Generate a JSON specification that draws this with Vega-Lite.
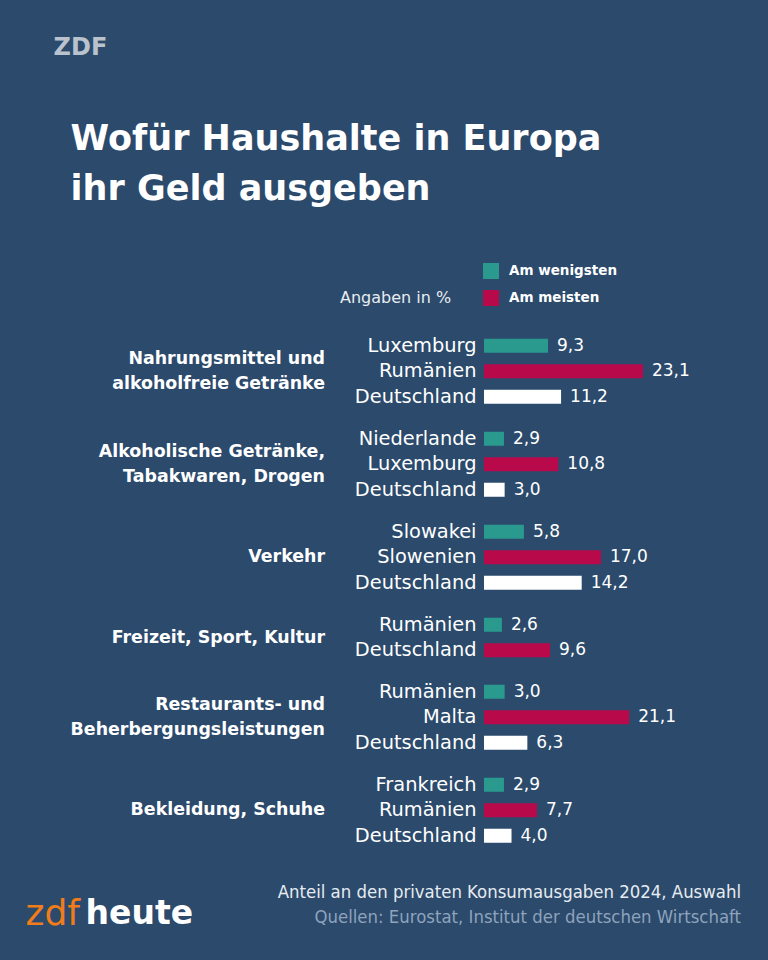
{
  "$schema": "https://vega.github.io/schema/vega-lite/v6.json",
  "background": "#2b4a6c",
  "padding": {"left": 25, "top": 36, "right": 27, "bottom": 45},
  "config": {
    "locale": {"number": {"decimal": ",", "thousands": ".", "grouping": [3], "currency": ["", " €"]}},
    "view": {"stroke": null},
    "font": "DejaVu Sans"
  },
  "title": {
    "text": "ZDF", "anchor": "start", "dx": 28, "offset": 62,
    "font": "DejaVu Sans", "fontSize": 24, "fontWeight": "bold", "color": "#b9c2cd"
  },
  "vconcat": [
    {
      "title": {
        "text": ["Wofür Haushalte in Europa", "ihr Geld ausgeben"],
        "anchor": "start", "dx": 45, "offset": 126,
        "font": "DejaVu Sans", "fontSize": 35, "fontWeight": "bold", "color": "#ffffff", "lineHeight": 50
      },
      "vconcat": [
        {
          "title": {"text": "heute", "orient": "bottom", "anchor": "start", "dx": 60, "offset": -34,
            "font": "DejaVu Sans", "fontSize": 33, "fontWeight": "bold", "color": "#ffffff"},
          "vconcat": [
            {
              "title": {"text": "zdf", "orient": "bottom", "anchor": "start", "dx": -45, "offset": -29,
                "font": "DejaVu Sans", "fontSize": 36, "fontWeight": "normal", "color": "#f07d1a"},
              "vconcat": [
                {
                  "data": {"values": [
                    {"kat": "Nahrungsmittel und\nalkoholfreie Getränke", "land": "Luxemburg", "wert": 9.3, "typ": "Am wenigsten"},
                    {"kat": "Nahrungsmittel und\nalkoholfreie Getränke", "land": "Rumänien", "wert": 23.1, "typ": "Am meisten"},
                    {"kat": "Nahrungsmittel und\nalkoholfreie Getränke", "land": "Deutschland", "wert": 11.2, "typ": "Deutschland"},
                    {"kat": "Alkoholische Getränke,\nTabakwaren, Drogen", "land": "Niederlande", "wert": 2.9, "typ": "Am wenigsten"},
                    {"kat": "Alkoholische Getränke,\nTabakwaren, Drogen", "land": "Luxemburg", "wert": 10.8, "typ": "Am meisten"},
                    {"kat": "Alkoholische Getränke,\nTabakwaren, Drogen", "land": "Deutschland", "wert": 3.0, "typ": "Deutschland"},
                    {"kat": "Verkehr", "land": "Slowakei", "wert": 5.8, "typ": "Am wenigsten"},
                    {"kat": "Verkehr", "land": "Slowenien", "wert": 17.0, "typ": "Am meisten"},
                    {"kat": "Verkehr", "land": "Deutschland", "wert": 14.2, "typ": "Deutschland"},
                    {"kat": "Freizeit, Sport, Kultur", "land": "Rumänien", "wert": 2.6, "typ": "Am wenigsten"},
                    {"kat": "Freizeit, Sport, Kultur", "land": "Deutschland", "wert": 9.6, "typ": "Am meisten"},
                    {"kat": "Restaurants- und\nBeherbergungsleistungen", "land": "Rumänien", "wert": 3.0, "typ": "Am wenigsten"},
                    {"kat": "Restaurants- und\nBeherbergungsleistungen", "land": "Malta", "wert": 21.1, "typ": "Am meisten"},
                    {"kat": "Restaurants- und\nBeherbergungsleistungen", "land": "Deutschland", "wert": 6.3, "typ": "Deutschland"},
                    {"kat": "Bekleidung, Schuhe", "land": "Frankreich", "wert": 2.9, "typ": "Am wenigsten"},
                    {"kat": "Bekleidung, Schuhe", "land": "Rumänien", "wert": 7.7, "typ": "Am meisten"},
                    {"kat": "Bekleidung, Schuhe", "land": "Deutschland", "wert": 4.0, "typ": "Deutschland"}
                  ]},
                  "title": {
                    "text": "Anteil an den privaten Konsumausgaben 2024, Auswahl",
                    "subtitle": "Quellen: Eurostat, Institut der deutschen Wirtschaft",
                    "orient": "bottom", "anchor": "end", "offset": 34,
                    "font": "DejaVu Sans Condensed, Liberation Sans Narrow, Roboto Condensed, DejaVu Sans", "fontSize": 18.4, "fontWeight": "normal", "color": "#e6ebf1",
                    "subtitleFont": "DejaVu Sans Condensed, Liberation Sans Narrow, Roboto Condensed, DejaVu Sans", "subtitleFontSize": 18.4,
                    "subtitleColor": "#8ea3bc", "subtitlePadding": 7
                  },
                  "facet": {
                    "row": {
                      "field": "kat", "type": "nominal",
                      "sort": ["Nahrungsmittel und\nalkoholfreie Getränke", "Alkoholische Getränke,\nTabakwaren, Drogen", "Verkehr", "Freizeit, Sport, Kultur", "Restaurants- und\nBeherbergungsleistungen", "Bekleidung, Schuhe"],
                      "header": {"title": null, "labels": false}
                    }
                  },
                  "spacing": {"row": 16},
                  "resolve": {"scale": {"y": "independent"}},
                  "spec": {
                    "width": 257,
                    "height": {"step": 25.5},
                    "layer": [
                      {
                        "mark": {"type": "bar"},
                        "encoding": {
                          "y": {
                            "field": "land", "type": "nominal", "sort": null,
                            "scale": {"paddingInner": 0.45, "paddingOuter": 0.225},
                            "axis": {"title": null, "domain": false, "ticks": false, "labelFont": "DejaVu Sans",
                              "labelFontSize": 19.4, "labelColor": "#ffffff", "labelPadding": 8,
                              "minExtent": 131, "maxExtent": 131, "labelLimit": 0}
                          },
                          "x": {"field": "wert", "type": "quantitative", "scale": {"domain": [0, 37.35], "nice": false}, "axis": null},
                          "color": {
                            "field": "typ", "type": "nominal",
                            "scale": {"domain": ["Am wenigsten", "Am meisten", "Deutschland"], "range": ["#2a9a8f", "#b8094b", "#ffffff"]},
                            "legend": {
                              "values": ["Am wenigsten", "Am meisten"],
                              "title": "Angaben in %", "titleOrient": "left", "titleAnchor": "end",
                              "titleFont": "DejaVu Sans", "titleFontSize": 16, "titleFontWeight": "normal",
                              "titleColor": "#e8ecf0", "titlePadding": 31,
                              "orient": "none", "legendX": -144, "legendY": -70,
                              "direction": "vertical", "symbolType": "square", "symbolSize": 256,
                              "symbolStrokeWidth": 0, "rowPadding": 11, "labelOffset": 10,
                              "labelFont": "DejaVu Sans", "labelFontSize": 13.5, "labelFontWeight": "bold",
                              "labelColor": "#ffffff"
                            }
                          }
                        }
                      },
                      {
                        "mark": {"type": "text", "align": "left", "dx": 9, "font": "DejaVu Sans", "fontSize": 17, "color": "#ffffff"},
                        "encoding": {
                          "y": {"field": "land", "type": "nominal", "sort": null},
                          "x": {"field": "wert", "type": "quantitative"},
                          "text": {"field": "wert", "type": "quantitative", "format": ".1f"}
                        }
                      },
                      {
                        "transform": [
                          {"joinaggregate": [{"op": "count", "as": "n"}], "groupby": ["kat"]},
                          {"filter": "datum.land === 'Deutschland'"}
                        ],
                        "mark": {"type": "text", "align": "right", "baseline": "middle", "dx": -159,
                          "y": {"expr": "datum.n * 25.5 / 2 - (indexof(datum.kat, '\\n') >= 0 ? 12.75 : 0)"},
                          "lineBreak": "\n", "lineHeight": 25.5,
                          "font": "DejaVu Sans", "fontSize": 17.4, "fontWeight": "bold", "color": "#ffffff"},
                        "encoding": {
                          "x": {"datum": 0, "type": "quantitative"},
                          "text": {"field": "kat", "type": "nominal"}
                        }
                      }
                    ]
                  }
                }
              ]
            }
          ]
        }
      ]
    }
  ]
}
